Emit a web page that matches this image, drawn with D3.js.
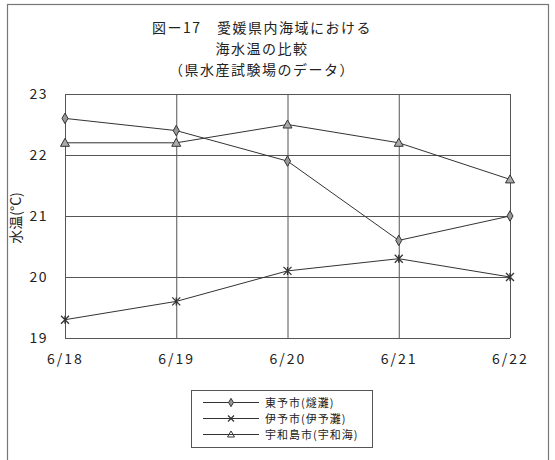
<!DOCTYPE html>
<html><head><meta charset="utf-8">
<script src="https://cdn.jsdelivr.net/npm/d3@7"></script>
<style>body{margin:0;background:#fff}svg{display:block}text{font-family:"Noto Sans CJK JP","Noto Sans",sans-serif;fill:#222}</style>
</head><body><div id="c"></div>
<script>
const dates = ["6/18","6/19","6/20","6/21","6/22"];
const toyo = [22.6,22.4,21.9,20.6,21.0];
const iyo = [19.3,19.6,20.1,20.3,20.0];
const uwajima = [22.2,22.2,22.5,22.2,21.6];
const seriesNames = ["東予市(燧灘)","伊予市(伊予灘)","宇和島市(宇和海)"];
const yTicks = [19,20,21,22,23];
const titleLines = ["図ー17　愛媛県内海域における","海水温の比較","（県水産試験場のデータ）"];
const yTitle = "水温(°C)";

const W=555,H=460;
const svg=d3.select("#c").append("svg").attr("width",W).attr("height",H);
svg.append("rect").attr("x",7.5).attr("y",4.5).attr("width",541).attr("height",470).attr("fill","none").attr("stroke","#777").attr("stroke-width",1.2);

const x=d3.scalePoint().domain(dates).range([65,510]);
const y=d3.scaleLinear().domain([19,23]).range([338,94]);

titleLines.forEach((t,i)=>svg.append("text").attr("x",262).attr("y",33+i*21).attr("text-anchor","middle").attr("font-size",14).attr("letter-spacing",1.5).text(t));

// grid
const g=svg.append("g");
g.selectAll(".hg").data(yTicks).join("line").attr("x1",65).attr("x2",510).attr("y1",d=>y(d)+0.5).attr("y2",d=>y(d)+0.5).attr("stroke","#555").attr("stroke-width",1);
g.selectAll(".vg").data(dates).join("line").attr("x1",d=>x(d)+0.5).attr("x2",d=>x(d)+0.5).attr("y1",94).attr("y2",338).attr("stroke","#555").attr("stroke-width",1);

// axes labels
const ya=d3.axisLeft(y).tickValues(yTicks).tickFormat(d3.format("d")).tickSize(0).tickPadding(17);
svg.append("g").attr("transform","translate(65,0)").call(ya).call(s=>{s.select(".domain").remove();s.selectAll("text").attr("font-size",14).attr("font-family","Liberation Sans, Arial, sans-serif").attr("letter-spacing",1.5).attr("fill","#222");});
const xa=d3.axisBottom(x).tickSize(0).tickPadding(16);
svg.append("g").attr("transform","translate(0,338)").call(xa).call(s=>{s.select(".domain").remove();s.selectAll("text").attr("font-size",14).attr("font-family","Liberation Sans, Arial, sans-serif").attr("letter-spacing",2).attr("fill","#222");});

svg.append("text").attr("transform","translate(21,218) rotate(-90)").attr("text-anchor","middle").attr("font-size",14).text(yTitle);

const series=[toyo,iyo,uwajima];
const line=d3.line().x((d,i)=>x(dates[i])).y(d=>y(d));
function marker(sel,k,cx,cy){
  if(k===0) sel.append("path").attr("d",d3.symbol(d3.symbolDiamond,32)()).attr("transform",`translate(${cx},${cy})`).attr("fill","#999").attr("stroke","#333").attr("stroke-width",1);
  else if(k===1) sel.append("path").attr("d",`M${cx-4},${cy-4}L${cx+4},${cy+4}M${cx-4},${cy+4}L${cx+4},${cy-4}M${cx},${cy-4}L${cx},${cy+4}`).attr("stroke","#333").attr("stroke-width",1.3).attr("fill","none");
  else sel.append("path").attr("d",`M${cx},${cy-4.5}L${cx+4.5},${cy+3.5}L${cx-4.5},${cy+3.5}Z`).attr("fill","#aaa").attr("stroke","#333").attr("stroke-width",1);
}
series.forEach((s,k)=>{
  svg.append("path").attr("d",line(s)).attr("fill","none").attr("stroke","#333").attr("stroke-width",1);
  const mg=svg.append("g");
  s.forEach((v,i)=>marker(mg,k,x(dates[i]),y(v)));
});

// legend
svg.append("rect").attr("x",191.5).attr("y",390.5).attr("width",181).attr("height",57).attr("fill","none").attr("stroke","#555");
seriesNames.forEach((n,k)=>{
  const ly=402+k*16;
  svg.append("line").attr("x1",203).attr("x2",259).attr("y1",ly+0.5).attr("y2",ly+0.5).attr("stroke","#333");
  const mg=svg.append("g");
  if(k===0) mg.append("path").attr("d",d3.symbol(d3.symbolDiamond,20)()).attr("transform",`translate(231,${ly+0.5})`).attr("fill","#999").attr("stroke","#333");
  else if(k===1) mg.append("path").attr("d",`M228,${ly-2.5}L234,${ly+3.5}M228,${ly+3.5}L234,${ly-2.5}`).attr("stroke","#333").attr("stroke-width",1.2);
  else mg.append("path").attr("d",`M231,${ly-3}L234.5,${ly+3}L227.5,${ly+3}Z`).attr("fill","none").attr("stroke","#333");
  svg.append("text").attr("x",265).attr("y",ly+4.5).attr("font-size",11).attr("letter-spacing",1).text(n);
});
</script></body></html>
